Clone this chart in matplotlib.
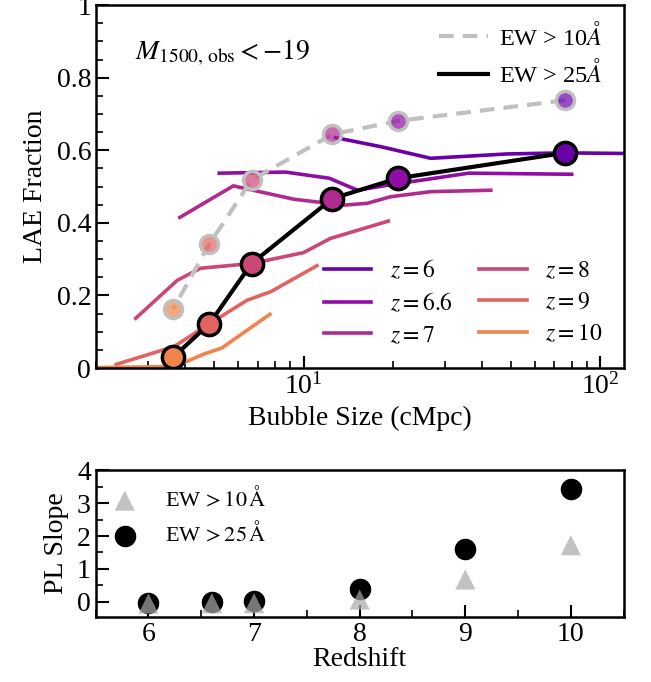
import numpy as np
import matplotlib
matplotlib.use("Agg")
import matplotlib.pyplot as plt
from matplotlib.ticker import MultipleLocator, FormatStrFormatter

plt.rcParams["font.family"] = ["Liberation Serif", "DejaVu Serif"]
plt.rcParams["mathtext.fontset"] = "stix"

# LAE fraction vs bubble size, one curve per redshift
REDSHIFTS = [6, 6.6, 7, 8, 9, 10]
Z_LABELS = ["$z=6$", "$z=6.6$", "$z=7$", "$z=8$", "$z=9$", "$z=10$"]

bubble_z6 = [12.8, 18.2, 26.8, 48.5, 76.0, 130.0]
frac_z6 = [0.635, 0.610, 0.578, 0.590, 0.593, 0.591]
bubble_z66 = [5.2, 8.7, 12.2, 15.2, 19.6, 36.0, 80.0]
frac_z66 = [0.537, 0.540, 0.523, 0.490, 0.505, 0.537, 0.534]
bubble_z7 = [3.83, 5.8, 9.3, 13.7, 16.4, 19.6, 26.8, 42.7]
frac_z7 = [0.415, 0.502, 0.465, 0.449, 0.454, 0.472, 0.486, 0.490]
bubble_z8 = [2.72, 3.76, 4.5, 6.68, 10.0, 12.3, 19.3]
frac_z8 = [0.137, 0.242, 0.275, 0.288, 0.318, 0.357, 0.405]
bubble_z9 = [2.34, 3.66, 4.82, 6.46, 7.74, 11.1]
frac_z9 = [0.010, 0.059, 0.122, 0.187, 0.210, 0.282]
bubble_z10 = [1.5, 3.6, 4.1, 4.6, 5.3, 7.7]
frac_z10 = [0.0, 0.004, 0.020, 0.038, 0.055, 0.148]

curves_x = [bubble_z6, bubble_z66, bubble_z7, bubble_z8, bubble_z9, bubble_z10]
curves_y = [frac_z6, frac_z66, frac_z7, frac_z8, frac_z9, frac_z10]

# characteristic bubble size per redshift and fraction above each EW cut
char_bubble = [76.0, 20.8, 12.5, 6.68, 4.82, 3.64]
frac_ew10 = [0.738, 0.681, 0.644, 0.518, 0.342, 0.163]
frac_ew25 = [0.593, 0.523, 0.467, 0.288, 0.122, 0.030]

# power-law slopes per redshift
slope_ew10 = [-0.05, -0.04, -0.04, 0.07, 0.68, 1.72]
slope_ew25 = [-0.02, 0.0, 0.02, 0.40, 1.60, 3.42]

colors = plt.cm.plasma(np.linspace(0.2, 0.7, len(REDSHIFTS)))

fig = plt.figure(figsize=(6.51, 6.82), dpi=100)
ax = fig.add_axes([0.1475, 0.4604, 0.811, 0.532])
ax2 = fig.add_axes([0.147, 0.0957, 0.811, 0.215])

z_handles = []
for xs, ys, c, lab in zip(curves_x, curves_y, colors, Z_LABELS):
    h, = ax.plot(xs, ys, color=c, lw=2.6, label=lab, zorder=2)
    z_handles.append(h)

h10, = ax.plot(char_bubble, frac_ew10, color="silver", lw=3, ls=(0, (3.5, 2.2)),
               label=r"EW > 10$\AA$", zorder=3)
h25, = ax.plot(char_bubble, frac_ew25, color="black", lw=3,
               label=r"EW > 25$\AA$", zorder=4)
for x, y10, y25, c in zip(char_bubble, frac_ew10, frac_ew25, colors):
    ax.plot(x, y10, "o", ms=13, mfc=(*c[:3], 0.7), mec="silver", mew=2.5, zorder=3.5)
    ax.plot(x, y25, "o", ms=16, mfc=c, mec="black", mew=2.5, zorder=5)

ax.set_xscale("log")
ax.set_xlim(2, 120)
ax.set_ylim(0, 1)
ax.yaxis.set_major_locator(MultipleLocator(0.2))
ax.yaxis.set_minor_locator(MultipleLocator(0.05))
ax.yaxis.set_major_formatter(FormatStrFormatter("%g"))
ax.set_xlabel("Bubble Size (cMpc)", fontsize=20, labelpad=5)
ax.set_ylabel("LAE Fraction", fontsize=20, labelpad=6)
ax.text(0.074, 0.868, r"$M_{1500,\,\rm obs} < -19$", transform=ax.transAxes,
        fontsize=20, va="center", ha="left")

leg1 = ax.legend(handles=[h10, h25], loc="upper right", frameon=False, fontsize=17.5,
                 handlelength=2.0, handletextpad=0.45, labelspacing=0.4,
                 bbox_to_anchor=(1.0, 1.015))
ax.add_artist(leg1)
ax.legend(handles=z_handles, loc="lower right", ncol=2, frameon=False, fontsize=17,
          handlelength=2.0, columnspacing=1.1, labelspacing=0.42,
          bbox_to_anchor=(1.0, 0.0))

# slope panel
ax2.scatter(REDSHIFTS, slope_ew25, s=210, marker="o", color="black",
            label=r"EW$\,>25\,\mathrm{\AA}$", zorder=2)
ax2.scatter(REDSHIFTS, slope_ew10, s=210, marker="^", color="darkgray", alpha=0.7,
            edgecolors="none", label=r"EW$\,>10\,\mathrm{\AA}$", zorder=3)
ax2.set_xlim(5.5, 10.5)
ax2.set_ylim(-0.45, 4)
ax2.xaxis.set_major_locator(MultipleLocator(1))
ax2.xaxis.set_minor_locator(MultipleLocator(0.5))
ax2.yaxis.set_major_locator(MultipleLocator(1))
ax2.yaxis.set_minor_locator(MultipleLocator(0.5))
ax2.set_xlabel("Redshift", fontsize=20, labelpad=0)
ax2.set_ylabel("PL Slope", fontsize=20, labelpad=6)
handles, labels = ax2.get_legend_handles_labels()
ax2.legend(handles[::-1], labels[::-1], loc="upper left", frameon=False, fontsize=16,
           handletextpad=0.8, labelspacing=0.45, bbox_to_anchor=(-0.025, 1.025))

for a in (ax, ax2):
    a.tick_params(which="both", direction="in", top=False, right=False, labelsize=20)
    a.tick_params(which="major", length=9, width=1.5)
    a.tick_params(which="minor", length=5, width=1.2)
    for s in a.spines.values():
        s.set_linewidth(1.8)

fig.savefig("out.png", dpi=100)
